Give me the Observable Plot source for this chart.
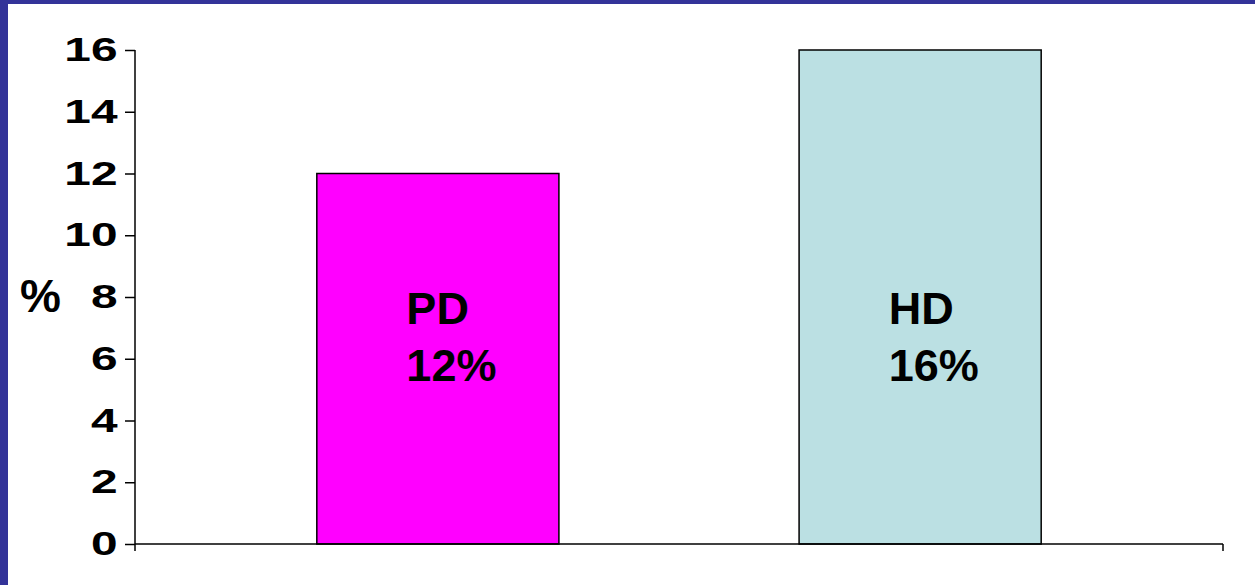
<!DOCTYPE html>
<html>
<head>
<meta charset="utf-8">
<script src="https://cdn.jsdelivr.net/npm/d3@7"></script>
<script src="https://cdn.jsdelivr.net/npm/@observablehq/plot@0.6"></script>
<style>
  html, body { margin: 0; padding: 0; background: #fff; }
  #wrap { position: relative; width: 1255px; height: 585px; overflow: hidden; background: #fff; }
  #wrap svg { position: absolute; left: 0; top: 0; }
  .edge { position: absolute; background: #333399; z-index: 2; }
</style>
</head>
<body>
<div id="wrap">
  <div class="edge" style="left:0;top:0;width:8px;height:585px"></div>
  <div class="edge" style="left:0;top:0;width:1255px;height:4px"></div>
</div>
<script>
const categories = ["PD", "HD"];
const values = [12, 16];
const barColors = ["#FF00FF", "#BBE0E3"];
const yTicks = [0, 2, 4, 6, 8, 10, 12, 14, 16];
const yLabel = "%";

const data = categories.map((c, i) => ({cat: c, value: values[i], color: barColors[i]}));
const font = "'Liberation Sans', Arial, Helvetica, sans-serif";

function axisLines(index, scales, vals, dims) {
  const y0 = scales.y(0);
  const yTop = scales.y(d3.max(yTicks));
  const xl = dims.marginLeft;
  const xr = dims.width - dims.marginRight;
  const g = d3.create("svg:g").attr("stroke", "black").attr("stroke-width", 1.5).attr("fill", "none");
  g.append("line").attr("x1", xl).attr("x2", xl).attr("y1", yTop).attr("y2", y0 + 7);
  g.append("line").attr("x1", xl).attr("x2", xr).attr("y1", y0).attr("y2", y0);
  g.append("line").attr("x1", xr).attr("x2", xr).attr("y1", y0).attr("y2", y0 + 7);
  return g.node();
}

const chart = Plot.plot({
  width: 1255,
  height: 585,
  marginLeft: 135,
  marginRight: 32,
  marginTop: 50,
  marginBottom: 41,
  style: {fontFamily: font, fontWeight: "bold", background: "transparent", color: "black"},
  x: {domain: categories, paddingInner: 0.498, paddingOuter: 0.377, round: false, axis: null},
  y: {domain: [0, d3.max(yTicks)], axis: null},
  marks: [
    Plot.barY(data, {x: "cat", y: "value", fill: "color", stroke: "black", strokeWidth: 1.5}),
    axisLines,
    Plot.axisY(yTicks, {tickSize: 10, tickPadding: 8, fontSize: 33, fontWeight: "bold", label: null, strokeWidth: 1.5}),
    Plot.text([yLabel], {frameAnchor: "left", textAnchor: "middle", dx: -95, fontSize: 46, fontWeight: "bold", fill: "black"}),
    Plot.text(data, {
      x: "cat",
      frameAnchor: "middle",
      text: d => `${d.cat}\n${d.value}%`,
      textAnchor: "start",
      lineHeight: 1.25,
      dx: -32,
      dy: 37,
      fontSize: 45,
      fontWeight: "bold",
      fill: "black"
    })
  ]
});

document.getElementById("wrap").appendChild(chart);

// Tick labels in the reference are horizontally stretched
d3.select(chart).selectAll('g[aria-label="y-axis tick label"] text').each(function() {
  const t = this.getAttribute("transform") || "";
  this.setAttribute("transform", t + " scale(1.45,1)");
});
</script>
</body>
</html>
